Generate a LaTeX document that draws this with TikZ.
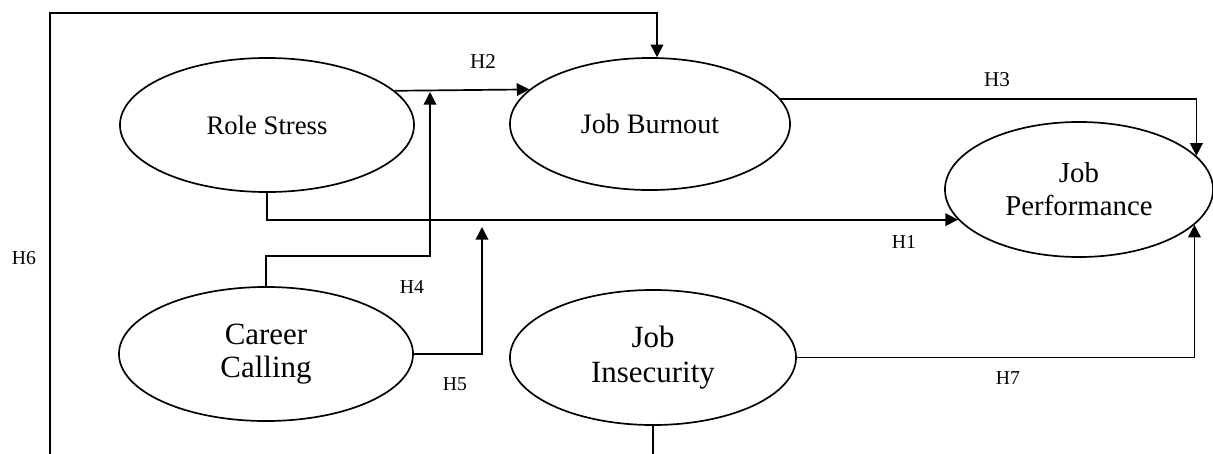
\documentclass[tikz,border=0pt]{standalone}
\usepackage{fontspec}
\setmainfont{Liberation Serif}
\usetikzlibrary{arrows.meta,shapes.geometric}
\begin{document}
\begin{tikzpicture}[x=0.025cm,y=-0.025cm,
  construct/.style={draw,ellipse,line width=1.2pt,inner sep=0pt,align=center},
  link/.style={line width=1.2pt},
  arr/.style={link,-{Triangle[length=9pt,width=9pt]}},
  hlabel/.style={inner sep=0pt,font=\fontsize{14}{16}\selectfont},
  hlabelbig/.style={inner sep=0pt,font=\fontsize{15}{17}\selectfont}]
\useasboundingbox (0,0) rectangle (1213,454);
\clip (0,0) rectangle (1213,454);

% constructs
\node[construct, minimum width=7.35cm, minimum height=3.35cm, font=\fontsize{19}{22}\selectfont] (rs) at (267,125) {Role Stress};
\node[construct, minimum width=7cm, minimum height=3.3cm, font=\fontsize{20}{23}\selectfont] (jb) at (650,124) {Job Burnout};
\node[construct, minimum width=6.7cm, minimum height=3.375cm, font=\fontsize{20.5}{23.5}\selectfont] (jp) at (1079,189.5) {Job\\Performance};
\node[construct, minimum width=7.35cm, minimum height=3.35cm, font=\fontsize{22}{23.5}\selectfont] (cc) at (266,354) {Career\\Calling};
\node[construct, minimum width=7.15cm, minimum height=3.375cm, font=\fontsize{22}{25}\selectfont] (ji) at (653,357.5) {Job\\Insecurity};

% free ends
\coordinate (h6l) at (50,490);
\coordinate (h6t) at (50,13);
\coordinate (h4t) at (430,92);
\coordinate (h5t) at (482,227);

% connectors
\draw[arr] (rs.15.6) -- (jb.164.2);                 % H2
\draw[arr] (cc.north) -- ++(0,-30) -| (h4t);        % H4
\draw[arr] (rs.south) |- (jp.194.6);                % H1
\draw[arr] (cc.east) -| (h5t);                      % H5
\draw[arr] (jb.11.9) -| (jp.16.2);                  % H3
\draw[arr] (ji.east) -| (jp.343.8);                 % H7
\draw[arr] (ji.south) |- (h6l) -- (h6t) -| (jb.84); % H6

% labels
\node[hlabelbig] (lh2) at (483,62) {H2};
\node[hlabelbig] (lh3) at (997,80) {H3};
\node[hlabel] (lh1) at (904,242) {H1};
\node[hlabel] (lh4) at (412,287) {H4};
\node[hlabel] (lh5) at (455,384) {H5};
\node[hlabel] (lh6) at (24,258) {H6};
\node[hlabel] (lh7) at (1008,378) {H7};
\end{tikzpicture}
\end{document}
